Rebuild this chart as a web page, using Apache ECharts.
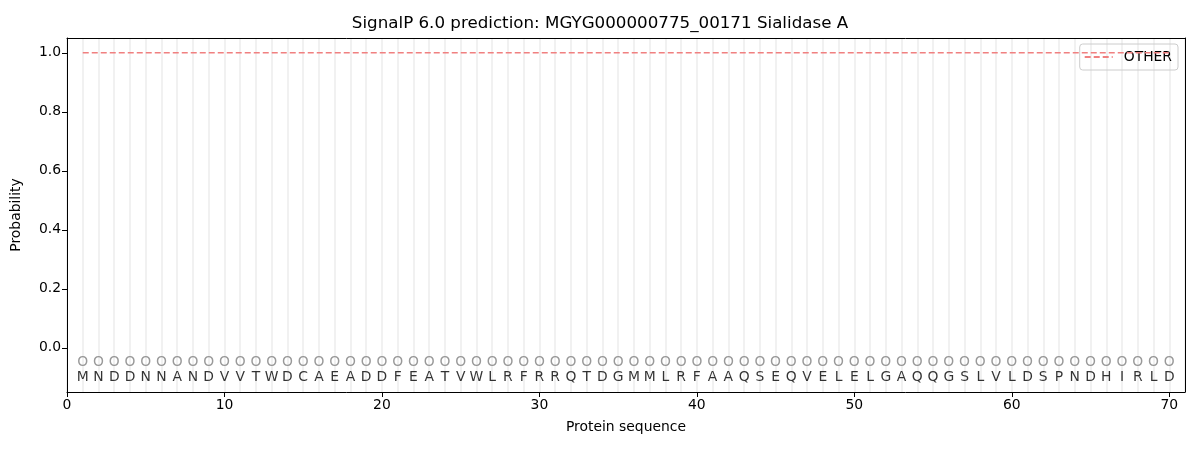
<!DOCTYPE html>
<html><head><meta charset="utf-8">
<script src="https://cdn.jsdelivr.net/npm/echarts@6/dist/echarts.min.js"></script>
<style>html,body{margin:0;padding:0;background:#fff}#c{width:1200px;height:450px}</style>
</head><body><div id="c"></div>
<script>
const residues = ["M","N","D","D","N","N","A","N","D","V","V","T","W","D","C","A","E","A","D","D","F","E","A","T","V","W","L","R","F","R","R","Q","T","D","G","M","M","L","R","F","A","A","Q","S","E","Q","V","E","L","E","L","G","A","Q","Q","G","S","L","V","L","D","S","P","N","D","H","I","R","L","D"];
const otherProb = [1,1,1,1,1,1,1,1,1,1,1,1,1,1,1,1,1,1,1,1,1,1,1,1,1,1,1,1,1,1,1,1,1,1,1,1,1,1,1,1,1,1,1,1,1,1,1,1,1,1,1,1,1,1,1,1,1,1,1,1,1,1,1,1,1,1,1,1,1,1];
const predLabels = residues.map(() => "O");
const xTicks = [0,10,20,30,40,50,60,70];
const yTicks = [0,0.2,0.4,0.6,0.8,1.0];
const FONT = "DejaVu Sans";
const FS = 13.9;

const chart = echarts.init(document.getElementById('c'));
chart.setOption({
  animation: false,
  textStyle: {fontFamily: FONT},
  title: {text: "SignalP 6.0 prediction: MGYG000000775_00171 Sialidase A", left: 'center', top: 10,
    textStyle: {fontFamily: FONT, fontSize: 16.7, fontWeight: 'normal', color: '#000'}},
  legend: {right: 22, top: 44, data: ['OTHER'], itemWidth: 28, itemHeight: 10, itemGap: 8,
    itemStyle: {opacity: 0},
    borderColor: '#cccccc', borderWidth: 1, borderRadius: 3, padding: [6, 6, 6, 4],
    textStyle: {fontFamily: FONT, fontSize: FS, color: '#000', padding: [0, 0, 0, 6]}},
  grid: {left: 67, right: 15, top: 38, bottom: 58},
  xAxis: [{
    type: 'value', min: 0, max: 71,
    name: 'Protein sequence', nameLocation: 'middle', nameGap: 28,
    nameTextStyle: {fontFamily: FONT, fontSize: FS, color: '#000'},
    axisLine: {onZero: false, lineStyle: {color: '#000'}},
    axisTick: {customValues: xTicks, length: 5, lineStyle: {color: '#000'}},
    axisLabel: {customValues: xTicks, fontFamily: FONT, fontSize: FS, color: '#000', margin: 6},
    splitLine: {show: false}
  }, {
    type: 'value', min: 0, max: 71, interval: 1, position: 'top',
    axisLine: {show: true, onZero: false, lineStyle: {color: '#000'}}, axisTick: {show: false}, axisLabel: {show: false},
    splitLine: {show: true, lineStyle: {color: '#ececec', width: 1.5}}
  }],
  yAxis: [{
    type: 'value', min: -0.15, max: 1.05,
    name: 'Probability', nameLocation: 'middle', nameGap: 44,
    nameTextStyle: {fontFamily: FONT, fontSize: FS, color: '#000'},
    axisLine: {show: true, onZero: false, lineStyle: {color: '#000'}},
    axisTick: {show: true, customValues: yTicks, length: 5, lineStyle: {color: '#000'}},
    axisLabel: {customValues: yTicks, fontFamily: FONT, fontSize: FS, color: '#000', margin: 6,
      formatter: v => v.toFixed(1)},
    splitLine: {show: false}
  }, {
    type: 'value', min: -0.15, max: 1.05, position: 'right',
    axisLine: {show: true, onZero: false, lineStyle: {color: '#000'}}, axisTick: {show: false}, axisLabel: {show: false},
    splitLine: {show: false}
  }],
  series: [{
    name: 'OTHER', type: 'line', symbol: 'none',
    data: otherProb.map((p, i) => [i + 1, p]),
    lineStyle: {color: '#f08080', width: 1.6, type: [6, 3]},
    itemStyle: {color: '#f08080'}, z: 5
  }, {
    name: 'pred', type: 'scatter', symbol: 'circle', symbolSize: 2, silent: true,
    itemStyle: {color: 'rgba(0,0,0,0)'},
    data: predLabels.map((t, i) => ({value: [i + 1, -0.05], name: t})),
    label: {show: true, position: 'inside', formatter: '{b}',
      fontFamily: FONT, fontSize: FS, color: '#808080'},
    labelLayout: {hideOverlap: false}
  }, {
    name: 'seq', type: 'scatter', symbol: 'circle', symbolSize: 2, silent: true,
    itemStyle: {color: 'rgba(0,0,0,0)'},
    data: residues.map((t, i) => ({value: [i + 1, -0.1], name: t})),
    label: {show: true, position: 'inside', formatter: '{b}',
      fontFamily: FONT, fontSize: FS, color: '#000'},
    labelLayout: {hideOverlap: false}
  }]
});
</script></body></html>
